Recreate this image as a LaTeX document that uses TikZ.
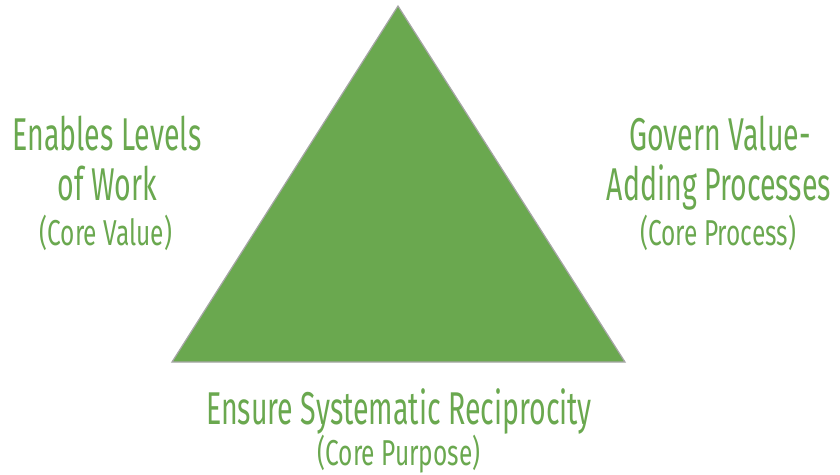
\documentclass[tikz,border=0pt]{standalone}
\usepackage{fontspec}
\setmainfont{Fira Sans}[FakeStretch=0.62]
\newfontfamily\notefont{Fira Sans}[FakeStretch=0.68]
\usepackage{xcolor}
\definecolor{leafgreen}{HTML}{6AA84F}
\definecolor{rimgray}{HTML}{A6A6A6}

\tikzset{
  bigtext/.style={text=leafgreen, font=\fontsize{46}{50}\selectfont, anchor=base, inner sep=0pt},
  smalltext/.style={text=leafgreen, font=\notefont\fontsize{36}{40}\selectfont, anchor=base, inner sep=0pt}
}

\begin{document}
\begin{tikzpicture}[x=1pt,y=-1pt]
  \useasboundingbox (0,0) rectangle (840,474);

  \coordinate (Top) at (398, 6);
  \coordinate (BaseLeft) at (172, 362);
  \coordinate (BaseRight) at (625, 362);

  \filldraw[fill=leafgreen, draw=rimgray, line width=1.2pt, line join=miter] (Top) -- (BaseLeft) -- (BaseRight) -- cycle;

  % left side
  \node[bigtext] (valueA) at (107, 150) {Enables Levels};
  \node[bigtext] (valueB) at (107, 200) {of Work};
  \node[smalltext] (valueC) at (106, 245) {(Core Value)};

  % right side
  \node[bigtext] (processA) at (720, 150) {Govern Value-};
  \node[bigtext] (processB) at (719, 200) {Adding Processes};
  \node[smalltext] (processC) at (718, 245) {(Core Process)};

  % bottom
  \node[bigtext] (purposeA) at (399, 424) {Ensure Systematic Reciprocity};
  \node[smalltext] (purposeB) at (399, 465) {(Core Purpose)};
\end{tikzpicture}
\end{document}
